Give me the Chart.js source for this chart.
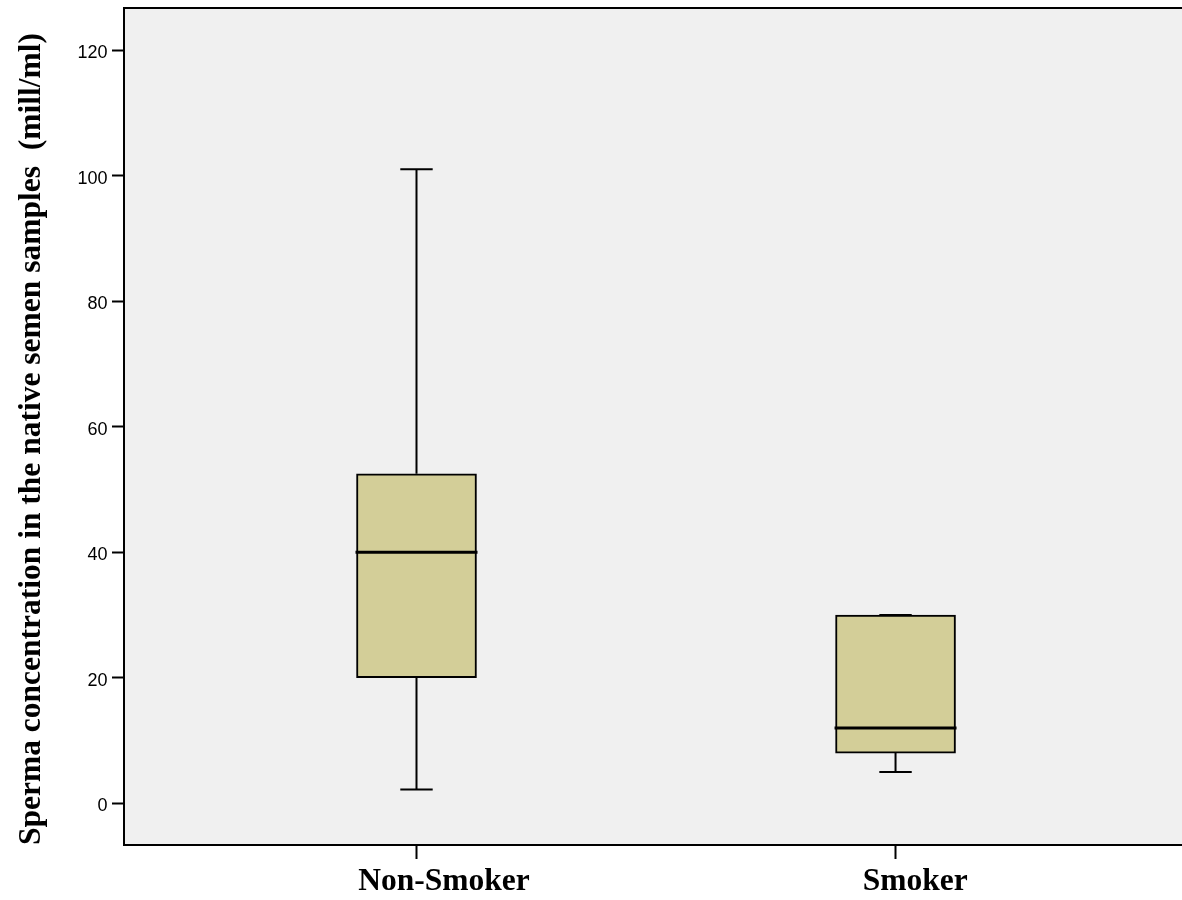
<!DOCTYPE html>
<html>
<head>
<meta charset="utf-8">
<script src="https://cdn.jsdelivr.net/npm/chart.js@4"></script>
<style>
  html, body { margin: 0; padding: 0; background: #fff; overflow: hidden; }
  #wrap { width: 1182px; height: 900px; position: relative; }
</style>
</head>
<body>
<div id="wrap"><canvas id="chart"></canvas></div>
<script>
// box plot summary
const categories = ['Non-Smoker', 'Smoker'];
const minValues = [2.2, 5];
const q1Values = [20, 8];
const medianValues = [40, 12];
const q3Values = [52.5, 30];
const maxValues = [101, 30];
const yTicks = [0, 20, 40, 60, 80, 100, 120];
const yTitle = 'Sperma concentration in the native semen samples  (mill/ml)';

// whiskers, caps, median + plot background / top frame
const boxPlotLines = {
  id: 'boxPlotLines',
  beforeDraw(chart) {
    const { ctx, chartArea: a } = chart;
    ctx.save();
    ctx.fillStyle = '#f0f0f0';
    ctx.fillRect(a.left, a.top, a.right - a.left, a.bottom - a.top);
    ctx.restore();
  },
  afterDatasetsDraw(chart) {
    const { ctx, chartArea: a } = chart;
    const y = chart.scales.y;
    const bars = chart.getDatasetMeta(0).data;
    ctx.save();
    ctx.strokeStyle = '#000';
    bars.forEach((bar, i) => {
      const cap = bar.width * 0.135;
      const yMin = y.getPixelForValue(minValues[i]);
      const yMax = y.getPixelForValue(maxValues[i]);
      ctx.lineWidth = 2;
      ctx.beginPath();
      ctx.moveTo(bar.x, y.getPixelForValue(q3Values[i]));
      ctx.lineTo(bar.x, yMax);
      ctx.moveTo(bar.x, y.getPixelForValue(q1Values[i]));
      ctx.lineTo(bar.x, yMin);
      ctx.moveTo(bar.x - cap, yMax);
      ctx.lineTo(bar.x + cap, yMax);
      ctx.moveTo(bar.x - cap, yMin);
      ctx.lineTo(bar.x + cap, yMin);
      ctx.stroke();
      const yMed = y.getPixelForValue(medianValues[i]);
      ctx.lineWidth = 3;
      ctx.beginPath();
      ctx.moveTo(bar.x - bar.width / 2 - 1, yMed);
      ctx.lineTo(bar.x + bar.width / 2 + 1, yMed);
      ctx.stroke();
    });
    ctx.lineWidth = 2;
    ctx.beginPath();
    ctx.moveTo(a.left, a.top);
    ctx.lineTo(a.right, a.top);
    ctx.stroke();
    ctx.restore();
  }
};

new Chart(document.getElementById('chart'), {
  type: 'bar',
  data: {
    datasets: [{
      data: categories.map((c, i) => ({ x: i + 1, y: [q1Values[i], q3Values[i]] })),
      backgroundColor: '#d3ce98',
      borderColor: '#000',
      borderWidth: 2,
      borderSkipped: false,
      barThickness: 120
    }]
  },
  options: {
    responsive: true,
    maintainAspectRatio: false,
    animation: false,
    layout: { padding: { top: 8, left: 0, right: 0, bottom: 0 } },
    plugins: { legend: { display: false }, tooltip: { enabled: false } },
    scales: {
      x: {
        type: 'linear',
        offset: false,
        min: 0.3894,
        max: 2.598,
        afterBuildTicks: (s) => { s.ticks = categories.map((c, i) => ({ value: i + 1 })); },
        afterFit: (s) => { s.height = 55; s.paddingLeft = 0; s.paddingRight = 0; },
        grid: { offset: false, drawOnChartArea: false, drawTicks: true, tickLength: 14, tickWidth: 2, tickColor: '#000' },
        border: { display: true, color: '#000', width: 2 },
        ticks: {
          color: '#000',
          padding: 4,
          maxRotation: 0,
          autoSkip: false,
          font: { family: '"Liberation Serif", "Times New Roman", serif', size: 31.5, weight: 'bold' },
          // labels sit a little right of their tick in the original
          callback: (v, i) => ' '.repeat([7, 5][i] || 0) + categories[v - 1]
        }
      },
      y: {
        min: -6.65,
        max: 126.7,
        afterBuildTicks: (s) => { s.ticks = yTicks.map((v) => ({ value: v })); },
        afterFit: (s) => { s.width = 124; s.paddingTop = 0; s.paddingBottom = 0; },
        grid: { drawOnChartArea: false, drawTicks: true, tickLength: 12, tickWidth: 2, tickColor: '#000' },
        border: { display: true, color: '#000', width: 2 },
        ticks: {
          color: '#000',
          padding: 4.5,
          labelOffset: 3,
          font: { family: '"Liberation Sans", Arial, sans-serif', size: 18 }
        },
        title: {
          display: true,
          text: yTitle,
          align: 'start',
          color: '#000',
          padding: { top: 12.5, bottom: 0 },
          font: { family: '"Liberation Serif", "Times New Roman", serif', size: 31.5, weight: 'bold' }
        }
      }
    }
  },
  plugins: [boxPlotLines]
});
</script>
</body>
</html>
